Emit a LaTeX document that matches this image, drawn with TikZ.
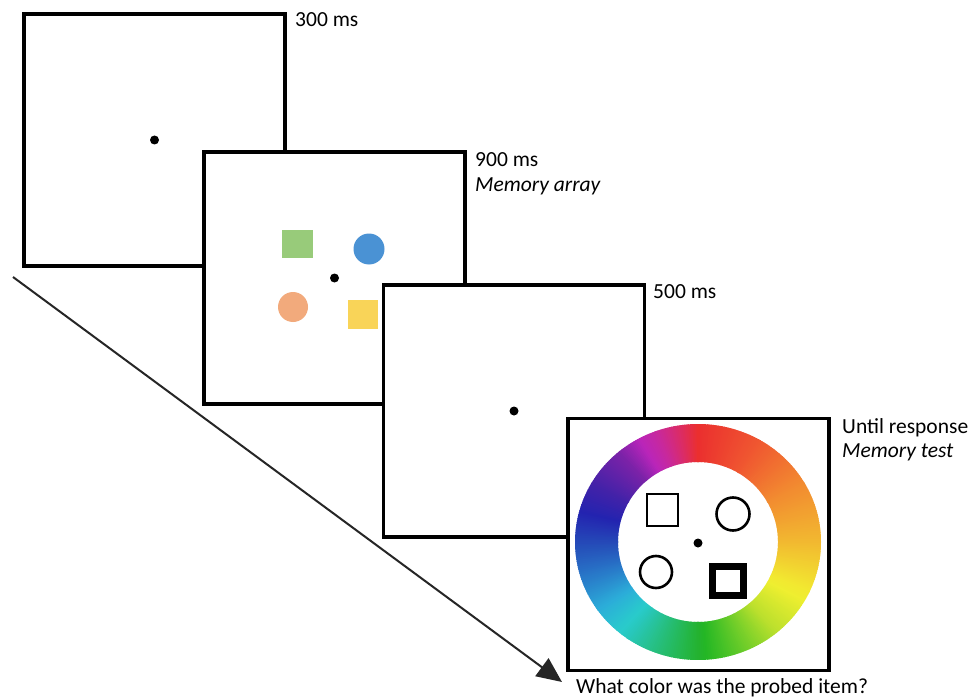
\documentclass[tikz,border=0pt]{standalone}
\usepackage{fontspec}
\setmainfont{Carlito}
\usetikzlibrary{arrows.meta}
\definecolor{sqgreen}{RGB}{152,203,122}
\definecolor{cblue}{RGB}{74,146,212}
\definecolor{corange}{RGB}{242,170,124}
\definecolor{sqyellow}{RGB}{249,212,88}
\begin{document}
\begin{tikzpicture}[x=1pt,y=-1pt,
  screen/.style={draw=black, line width=3.3pt, fill=white, minimum width=261pt,
    minimum height=252pt, inner sep=0pt, outer sep=0pt},
  fixdot/.style={circle, fill=black, minimum size=9pt, inner sep=0pt},
  lbl/.style={font=\fontsize{21.5}{25}\selectfont, anchor=base west, inner sep=0pt},
  ilbl/.style={lbl, font=\fontsize{21.5}{25}\selectfont\itshape},
  outline/.style={draw=black, line width=2.6pt, inner sep=0pt, fill=none}]
\useasboundingbox[fill=white] (0,0) rectangle (969,698);

% timeline arrow
\coordinate (ta) at (13,277);
\coordinate (tb) at (562,682);
\draw[line width=2pt, draw=black!85, -{Triangle[length=25pt,width=22pt]}] (ta) -- (tb);

% screen 1: fixation
\node[screen] (f1) at (154.5,140) {};
\node[fixdot] (d1) at (f1.center) {};
\node[lbl] (t1) at (295,27) {300 ms};

% screen 2: memory array
\node[screen] (f2) at (334.5,278) {};
\node[fixdot] (d2) at (f2.center) {};
\node[fill=sqgreen, minimum width=31pt, minimum height=28pt, inner sep=0pt] (s1) at (297.5,243.5) {};
\node[circle, fill=cblue, minimum size=31pt, inner sep=0pt] (s2) at (369,249) {};
\node[circle, fill=corange, minimum size=30pt, inner sep=0pt] (s3) at (293,307) {};
\node[fill=sqyellow, minimum width=30pt, minimum height=29pt, inner sep=0pt] (s4) at (363,314.5) {};
\node[lbl] (t2a) at (475,166) {900 ms};
\node[ilbl] (t2b) at (475,191) {Memory array};

% screen 3: delay
\node[screen] (f3) at (514,411) {};
\node[fixdot] (d3) at (f3.center) {};
\node[lbl] (t3) at (653,298) {500 ms};

% screen 4: colour wheel test
\node[screen] (f4) at (698.5,544.5) {};
\foreach \pa/\pb/\ha/\hb/\ba/\bb in {0/30/0/12/0.92/0.94, 30/60/12/28/0.94/0.95,
    60/90/28/42/0.95/0.95, 90/115/42/57/0.95/0.95, 115/140/57/72/0.95/0.88,
    140/180/72/125/0.88/0.70, 180/215/125/175/0.70/0.78, 215/235/175/195/0.78/0.85,
    235/270/195/225/0.85/0.72, 270/300/225/255/0.72/0.66, 300/320/255/280/0.66/0.66,
    320/340/280/315/0.66/0.78, 340/360/315/360/0.78/0.92}{
  \foreach \p in {\pa,...,\pb}{
    \pgfmathsetmacro\hh{mod(\ha+(\hb-\ha)*(\p-\pa)/(\pb-\pa),360)}
    \pgfmathsetmacro\bv{\ba+(\bb-\ba)*(\p-\pa)/(\pb-\pa)}
    \definecolor{wc}{Hsb}{\hh,0.8,\bv}
    \pgfmathsetmacro\ta{90-\p+0.7}
    \pgfmathsetmacro\tb{90-\p-0.7}
    \fill[wc] ({698+80*cos(\ta)},{542-80*sin(\ta)}) -- ({698+123*cos(\ta)},{542-118*sin(\ta)})
      -- ({698+123*cos(\tb)},{542-118*sin(\tb)}) -- ({698+80*cos(\tb)},{542-80*sin(\tb)}) -- cycle;
  }
}
\node[fixdot] (d4) at (698,543) {};
\node[outline, minimum width=31pt, minimum height=32pt] (p1) at (662.5,510) {};
\node[outline, circle, minimum size=33pt] (p2) at (733,514) {};
\node[outline, circle, minimum size=32pt] (p3) at (656,572) {};
\node[outline, line width=7pt, minimum width=31pt, minimum height=29pt] (p4) at (728,580.5) {};
\node[lbl] (t4a) at (842,433) {Until response};
\node[ilbl] (t4b) at (842,457) {Memory test};
\node[lbl] (t4c) at (576,693) {What color was the probed item?};
\end{tikzpicture}
\end{document}
